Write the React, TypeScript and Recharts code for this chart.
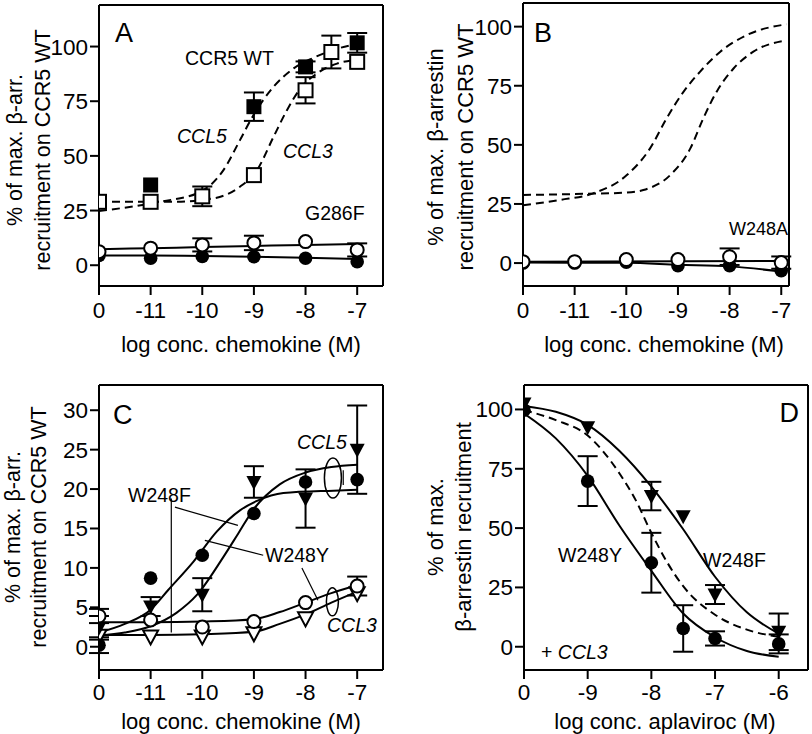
import React from "react";
import {
  ComposedChart,
  Line,
  Scatter,
  XAxis,
  YAxis,
  ErrorBar,
  ReferenceLine,
  ReferenceDot,
} from "recharts";

const FONT = '"Liberation Sans", Arial, Helvetica, sans-serif';

// the "0" (no ligand) column sits one decade left of the lowest dose
const chemTicks = [-12, -11, -10, -9, -8, -7];
const chemLabels = ["0", "-11", "-10", "-9", "-8", "-7"];
const aplTicks = [-10, -9, -8, -7, -6];
const aplLabels = ["0", "-9", "-8", "-7", "-6"];
const pctTicks = [0, 25, 50, 75, 100];
const lowTicks = [0, 5, 10, 15, 20, 25, 30];

type Pt = { x: number; y: number; e?: number };

// ---- A: CCR5 WT (squares) and G286F (circles)
const aCcl5: Pt[] = [
  { x: -11, y: 36.7 },
  { x: -9, y: 72.5, e: 6.5 },
  { x: -8, y: 90.7, e: 2.5 },
  { x: -7, y: 101.7, e: 4.5 },
];
const aCcl3: Pt[] = [
  { x: -12, y: 29 },
  { x: -11, y: 29 },
  { x: -10, y: 31.5, e: 4.5 },
  { x: -9, y: 41.2 },
  { x: -8, y: 80, e: 6 },
  { x: -7.5, y: 97.5, e: 7.5 },
  { x: -7, y: 93 },
];
const aCcl5Fit: Pt[] = [
  { x: -12, y: 24.8 }, { x: -10.82, y: 29 }, { x: -10.04, y: 33.5 },
  { x: -9.59, y: 43.5 }, { x: -9.27, y: 57.2 }, { x: -9.01, y: 68.6 },
  { x: -8.62, y: 81.6 }, { x: -8.23, y: 90 }, { x: -7.85, y: 94.8 },
  { x: -7.39, y: 99 }, { x: -7, y: 101.2 },
];
const aCcl3Fit: Pt[] = [
  { x: -12, y: 29 }, { x: -10.56, y: 29 }, { x: -9.78, y: 30.6 },
  { x: -9.27, y: 35.9 }, { x: -8.94, y: 43.5 }, { x: -8.62, y: 58.7 },
  { x: -8.36, y: 70.9 }, { x: -8.1, y: 80.8 }, { x: -7.78, y: 87.7 },
  { x: -7.39, y: 92.2 }, { x: -7, y: 94 },
];
const aG286Open: Pt[] = [
  { x: -12, y: 6.2 }, { x: -11, y: 7.8 }, { x: -10, y: 9.3, e: 3 },
  { x: -9, y: 10.2, e: 3.3 }, { x: -8, y: 10.8 }, { x: -7, y: 7, e: 3 },
];
const aG286Filled: Pt[] = [
  { x: -12, y: 4.5 }, { x: -11, y: 3.2 }, { x: -10, y: 4 },
  { x: -9, y: 3.9 }, { x: -8, y: 3.2 }, { x: -7, y: 1.6 },
];
const aG286OpenFit: Pt[] = [
  { x: -12, y: 7.3 }, { x: -11, y: 7.8 }, { x: -10, y: 8.3 },
  { x: -9, y: 8.8 }, { x: -8, y: 9.3 }, { x: -7, y: 9.7 },
];
const aG286FilledFit: Pt[] = [
  { x: -12, y: 4.5 }, { x: -11, y: 4.4 }, { x: -10, y: 4.2 },
  { x: -9, y: 3.9 }, { x: -8, y: 3.4 }, { x: -7, y: 2.8 },
];

// ---- B: WT fits (dashed) and W248A
const bCcl5Fit: Pt[] = [
  { x: -12, y: 24.5 }, { x: -11.28, y: 26.7 }, { x: -10.64, y: 29.5 },
  { x: -9.99, y: 37.2 }, { x: -9.54, y: 48.5 }, { x: -9.22, y: 61.2 },
  { x: -8.89, y: 72.5 }, { x: -8.57, y: 81 }, { x: -8.18, y: 89.4 },
  { x: -7.66, y: 96.5 }, { x: -6.9, y: 101 },
];
const bCcl3Fit: Pt[] = [
  { x: -12, y: 28.8 }, { x: -11, y: 29.2 }, { x: -10, y: 29.8 },
  { x: -9.67, y: 30.9 }, { x: -9.15, y: 37.2 }, { x: -8.76, y: 48.5 },
  { x: -8.51, y: 61.2 }, { x: -8.25, y: 72.5 }, { x: -7.92, y: 82.4 },
  { x: -7.54, y: 89.4 }, { x: -6.9, y: 94.2 },
];
const bOpen: Pt[] = [
  { x: -12, y: 0.6 }, { x: -11, y: 0.6 }, { x: -10, y: 1.5 },
  { x: -9, y: 1.5 }, { x: -8, y: 2.7, e: 3.5 }, { x: -7, y: 0.2, e: 2.6 },
];
const bFilled: Pt[] = [
  { x: -12, y: 0 }, { x: -11, y: 0 }, { x: -10, y: 0.4 },
  { x: -9, y: -1.1 }, { x: -8, y: -1.1 }, { x: -7, y: -3.2 },
];
const bOpenFit: Pt[] = [{ x: -12, y: 0.6 }, { x: -7, y: 0.9 }];
const bFilledFit: Pt[] = [
  { x: -12, y: 0.2 }, { x: -10, y: 0.1 }, { x: -9, y: -0.7 },
  { x: -8, y: -1.4 }, { x: -7, y: -3.6 },
];

// ---- C: W248Y (circles) and W248F (triangles); filled = CCL5, open = CCL3
const cYCcl5: Pt[] = [
  { x: -12, y: 0.2, e: 1 }, { x: -11, y: 8.7 }, { x: -10, y: 11.6 },
  { x: -9, y: 16.9 }, { x: -8, y: 20.9 }, { x: -7, y: 21.2 },
];
const cFCcl5: Pt[] = [
  { x: -12, y: 2.4, e: 1.5 }, { x: -11, y: 5.1, e: 1.2 }, { x: -10, y: 6.6, e: 2.1 },
  { x: -9, y: 20.9, e: 2 }, { x: -8, y: 18.8, e: 3.7 }, { x: -7, y: 25, e: 5.6 },
];
const cYCcl3: Pt[] = [
  { x: -12, y: 3.9, e: 0.9 }, { x: -11, y: 3.4 }, { x: -10, y: 2.5 },
  { x: -9, y: 3.2 }, { x: -8, y: 5.6 }, { x: -7, y: 7.7, e: 1.2 },
];
const cFCcl3: Pt[] = [
  { x: -12, y: 1.4 }, { x: -11, y: 1.3 }, { x: -10, y: 1.3 },
  { x: -9, y: 1.7 }, { x: -8, y: 3.6 }, { x: -7, y: 6.8 },
];
const cYCcl5Fit: Pt[] = [
  { x: -12, y: 1.8 }, { x: -11.5, y: 2.9 }, { x: -11, y: 4.7 },
  { x: -10.66, y: 7.2 }, { x: -10.17, y: 10.8 }, { x: -9.72, y: 14.6 },
  { x: -9.27, y: 17.3 }, { x: -8.94, y: 18.5 }, { x: -8.43, y: 19.5 },
  { x: -7.46, y: 19.8 }, { x: -7, y: 19.9 },
];
const cFCcl5Fit: Pt[] = [
  { x: -12, y: 1.4 }, { x: -11.5, y: 1.8 }, { x: -11, y: 2.6 },
  { x: -10.5, y: 4.3 }, { x: -10.1, y: 6.6 }, { x: -9.59, y: 11.4 },
  { x: -9.3, y: 14.4 }, { x: -9.01, y: 17.4 }, { x: -8.5, y: 20.6 },
  { x: -8, y: 22.1 }, { x: -7.5, y: 22.8 }, { x: -7, y: 23.1 },
];
const cYCcl3Fit: Pt[] = [
  { x: -12, y: 3.1 }, { x: -11, y: 3.1 }, { x: -10, y: 3.2 },
  { x: -9, y: 3.5 }, { x: -8.5, y: 4.4 }, { x: -8, y: 5.6 },
  { x: -7.5, y: 6.8 }, { x: -7, y: 7.8 },
];
const cFCcl3Fit: Pt[] = [
  { x: -12, y: 1.5 }, { x: -11, y: 1.5 }, { x: -10, y: 1.6 },
  { x: -9, y: 1.9 }, { x: -8.5, y: 2.9 }, { x: -8, y: 4.1 },
  { x: -7.5, y: 5.6 }, { x: -7, y: 7 },
];

// ---- D: aplaviroc inhibition of CCL3 response
const dY: Pt[] = [
  { x: -10, y: 99.7 }, { x: -9, y: 69.8, e: 10.5 }, { x: -8, y: 35.4, e: 12.6 },
  { x: -7.5, y: 7.7, e: 9.8 }, { x: -7, y: 3.5, e: 3 }, { x: -6, y: 1.2, e: 4 },
];
const dF: Pt[] = [
  { x: -10, y: 102.5 }, { x: -9, y: 92.5 }, { x: -8, y: 63.5, e: 6 },
  { x: -7.5, y: 55 }, { x: -7, y: 22, e: 4 }, { x: -6, y: 6.3, e: 7.7 },
];
const dYFit: Pt[] = [
  { x: -10, y: 98.3 }, { x: -9.5, y: 87.8 }, { x: -9, y: 72 },
  { x: -8.5, y: 51 }, { x: -8, y: 32 }, { x: -7.5, y: 14 },
  { x: -7, y: 4 }, { x: -6.5, y: -1.8 }, { x: -6, y: -4.2 },
];
const dFFit: Pt[] = [
  { x: -10, y: 101.5 }, { x: -9.5, y: 99 }, { x: -9, y: 93.5 },
  { x: -8.5, y: 82.5 }, { x: -8, y: 67.5 }, { x: -7.5, y: 49.5 },
  { x: -7, y: 29.5 }, { x: -6.5, y: 14.5 }, { x: -6, y: 5.5 },
];
const dWtFit: Pt[] = [
  { x: -10, y: 99.7 }, { x: -9.5, y: 95.5 }, { x: -9, y: 89 },
  { x: -8.5, y: 73 }, { x: -8.25, y: 62 }, { x: -8, y: 48 },
  { x: -7.75, y: 35.5 }, { x: -7.5, y: 25.5 }, { x: -7, y: 13.5 },
  { x: -6.5, y: 7.2 }, { x: -6, y: 4.2 },
];

// marker shapes
const filledSquare = (p: any) => (
  <rect x={p.cx - 7.5} y={p.cy - 7.5} width={15} height={15} fill="#000" />
);
const openSquare = (p: any) => (
  <rect x={p.cx - 7} y={p.cy - 7} width={14} height={14} fill="#fff" stroke="#000" strokeWidth={2} />
);
const filledCircle = (p: any) => <circle cx={p.cx} cy={p.cy} r={6.8} fill="#000" />;
const openCircle = (p: any) => (
  <circle cx={p.cx} cy={p.cy} r={6.5} fill="#fff" stroke="#000" strokeWidth={2} />
);
const triPath = (p: any) =>
  `M${p.cx - 7.5},${p.cy - 6} L${p.cx + 7.5},${p.cy - 6} L${p.cx},${p.cy + 8} Z`;
const filledTri = (p: any) => <path d={triPath(p)} fill="#000" />;
const openTri = (p: any) => <path d={triPath(p)} fill="#fff" stroke="#000" strokeWidth={2} />;

const fmt = (ticks: number[], labels: string[]) => (v: number) =>
  labels[ticks.indexOf(v)] ?? "";

const fit = (data: Pt[], dashed = false) => (
  <Line
    data={data}
    dataKey="y"
    type="monotone"
    stroke="#000"
    strokeWidth={2}
    strokeDasharray={dashed ? "8 5" : undefined}
    dot={false}
    isAnimationActive={false}
  />
);

const pts = (data: Pt[], shape: any) => (
  <Scatter data={data} dataKey="y" shape={shape} isAnimationActive={false}>
    <ErrorBar dataKey="e" direction="y" width={10} stroke="#000" strokeWidth={2} />
  </Scatter>
);

function Panel(props: {
  left: number;
  top: number;
  margin: { top: number; right: number; bottom: number; left: number };
  xTicks: number[];
  xLabels: string[];
  xDomain: [number, number];
  yTicks: number[];
  yDomain: [number, number];
  tickMargin: number;
  children: React.ReactNode;
}) {
  const { left, top, margin, xTicks, xLabels, xDomain, yTicks, yDomain, tickMargin } = props;
  const tick = { fontSize: 22.5, fill: "#000", fontFamily: FONT };
  return (
    <div style={{ position: "absolute", left, top }}>
      <ComposedChart width={406} height={367} margin={margin}>
        <XAxis
          type="number"
          dataKey="x"
          domain={xDomain}
          ticks={xTicks}
          interval={0}
          allowDataOverflow
          tickFormatter={fmt(xTicks, xLabels)}
          tick={tick}
          tickSize={9}
          tickMargin={tickMargin}
          height={30}
          axisLine={{ stroke: "#000", strokeWidth: 2 }}
          tickLine={{ stroke: "#000", strokeWidth: 2 }}
        />
        <YAxis
          type="number"
          domain={yDomain}
          ticks={yTicks}
          interval={0}
          allowDataOverflow
          tick={tick}
          tickSize={9}
          tickMargin={2}
          width={60}
          axisLine={{ stroke: "#000", strokeWidth: 2 }}
          tickLine={{ stroke: "#000", strokeWidth: 2 }}
        />
        <ReferenceLine y={yDomain[1]} stroke="#000" strokeWidth={2} />
        <ReferenceLine x={xDomain[1]} stroke="#000" strokeWidth={2} />
        {props.children}
      </ComposedChart>
    </div>
  );
}

const ring = (rx: number, ry: number) => (p: any) => (
  <ellipse cx={p.cx} cy={p.cy} rx={rx} ry={ry} fill="none" stroke="#000" strokeWidth={1.5} />
);

const pointer = (x1: number, y1: number, x2: number, y2: number) => (
  <ReferenceLine
    segment={[{ x: x1, y: y1 }, { x: x2, y: y2 }]}
    stroke="#000"
    strokeWidth={1.2}
  />
);

const T = (p: {
  x: number;
  y: number;
  size?: number;
  italic?: boolean;
  anchor?: "start" | "middle" | "end";
  rotate?: boolean;
  children: React.ReactNode;
}) => (
  <text
    x={p.rotate ? 0 : p.x}
    y={p.rotate ? 0 : p.y}
    transform={p.rotate ? `translate(${p.x},${p.y}) rotate(-90)` : undefined}
    fontSize={p.size ?? 19.5}
    fontStyle={p.italic ? "italic" : "normal"}
    textAnchor={p.anchor ?? "start"}
    fontFamily={FONT}
    fill="#000"
  >
    {p.children}
  </text>
);

export default function App() {
  return (
    <div style={{ position: "absolute", left: 0, top: 0, width: 812, height: 734, background: "#fff" }}>
      <Panel
        left={0}
        top={0}
        margin={{ top: 5, right: 23, bottom: 51, left: 39 }}
        xTicks={chemTicks}
        xLabels={chemLabels}
        xDomain={[-12, -6.5]}
        yTicks={pctTicks}
        yDomain={[-9.5, 119]}
        tickMargin={7}
      >
        {fit(aCcl5Fit, true)}
        {fit(aCcl3Fit, true)}
        {fit(aG286OpenFit)}
        {fit(aG286FilledFit)}
        {pts(aCcl5, filledSquare)}
        {pts(aCcl3, openSquare)}
        {pts(aG286Filled, filledCircle)}
        {pts(aG286Open, openCircle)}
      </Panel>

      <Panel
        left={406}
        top={0}
        margin={{ top: 3, right: 23, bottom: 51, left: 57 }}
        xTicks={chemTicks}
        xLabels={chemLabels}
        xDomain={[-12, -6.85]}
        yTicks={pctTicks}
        yDomain={[-9.7, 110]}
        tickMargin={7}
      >
        {fit(bCcl5Fit, true)}
        {fit(bCcl3Fit, true)}
        {fit(bOpenFit)}
        {fit(bFilledFit)}
        {pts(bFilled, filledCircle)}
        {pts(bOpen, openCircle)}
      </Panel>

      <Panel
        left={0}
        top={367}
        margin={{ top: 18, right: 23, bottom: 34, left: 39 }}
        xTicks={chemTicks}
        xLabels={chemLabels}
        xDomain={[-12, -6.5]}
        yTicks={lowTicks}
        yDomain={[-2.95, 33.2]}
        tickMargin={5}
      >
        {fit(cYCcl5Fit)}
        {fit(cFCcl5Fit)}
        {fit(cYCcl3Fit)}
        {fit(cFCcl3Fit)}
        {pointer(-10.6, 18.8, -10.6, 1.8)}
        {pointer(-10.53, 17.7, -9.31, 15.4)}
        {pointer(-8.82, 11.6, -9.95, 13.5)}
        {pointer(-8.07, 10.0, -7.76, 5.9)}
        {pointer(-7.27, 22.4, -7.27, 20.5)}
        <ReferenceDot x={-7.47} y={21.4} r={0} shape={ring(8.5, 20)} />
        <ReferenceDot x={-7.48} y={5.7} r={0} shape={ring(6, 14)} />
        {pts(cFCcl3, openTri)}
        {pts(cYCcl3, openCircle)}
        {pts(cYCcl5, filledCircle)}
        {pts(cFCcl5, filledTri)}
      </Panel>

      <Panel
        left={406}
        top={367}
        margin={{ top: 18, right: 4, bottom: 34, left: 58 }}
        xTicks={aplTicks}
        xLabels={aplLabels}
        xDomain={[-10, -5.54]}
        yTicks={pctTicks}
        yDomain={[-9.8, 110.3]}
        tickMargin={5}
      >
        {fit(dWtFit, true)}
        {fit(dYFit)}
        {fit(dFFit)}
        {pts(dY, filledCircle)}
        {pts(dF, filledTri)}
      </Panel>

      <svg
        width={812}
        height={734}
        style={{ position: "absolute", left: 0, top: 0, pointerEvents: "none" }}
      >
        {/* A */}
        <T x={115} y={42} size={27}>A</T>
        <T x={185} y={65}>CCR5 WT</T>
        <T x={177} y={143} italic>CCL5</T>
        <T x={283} y={158} italic>CCL3</T>
        <T x={305} y={220}>G286F</T>
        <T x={22} y={150} size={21.5} anchor="middle" rotate>% of max. β-arr.</T>
        <T x={50} y={150} size={21.5} anchor="middle" rotate>recruitment on CCR5 WT</T>
        <T x={241} y={352} size={22} anchor="middle">log conc. chemokine (M)</T>

        {/* B */}
        <T x={534} y={42} size={27}>B</T>
        <T x={729} y={235} size={18}>W248A</T>
        <T x={443} y={147} size={22} anchor="middle" rotate>% of max. β-arrestin</T>
        <T x={473} y={147} size={22} anchor="middle" rotate>recruitment on CCR5 WT</T>
        <T x={664} y={352} size={22} anchor="middle">log conc. chemokine (M)</T>

        {/* C */}
        <T x={113} y={424} size={27}>C</T>
        <T x={297} y={449} italic>CCL5</T>
        <T x={327} y={632} italic>CCL3</T>
        <T x={128} y={502}>W248F</T>
        <T x={265} y={562}>W248Y</T>
        <T x={20} y={527} size={21.5} anchor="middle" rotate>% of max. β-arr.</T>
        <T x={46} y={527} size={21.5} anchor="middle" rotate>recruitment on CCR5 WT</T>
        <T x={241} y={729} size={22} anchor="middle">log conc. chemokine (M)</T>

        {/* D */}
        <T x={799} y={422} size={27} anchor="end">D</T>
        <T x={558} y={562}>W248Y</T>
        <T x={703} y={567}>W248F</T>
        <text x={541} y={659} fontSize={19.5} fontFamily={FONT} fill="#000">
          +{" "}<tspan fontStyle="italic">CCL3</tspan>
        </text>
        <T x={443} y={527} size={22} anchor="middle" rotate>% of max.</T>
        <T x={471} y={527} size={22} anchor="middle" rotate>β-arrestin recruitment</T>
        <T x={665} y={729} size={22} anchor="middle">log conc. aplaviroc (M)</T>
      </svg>
    </div>
  );
}
